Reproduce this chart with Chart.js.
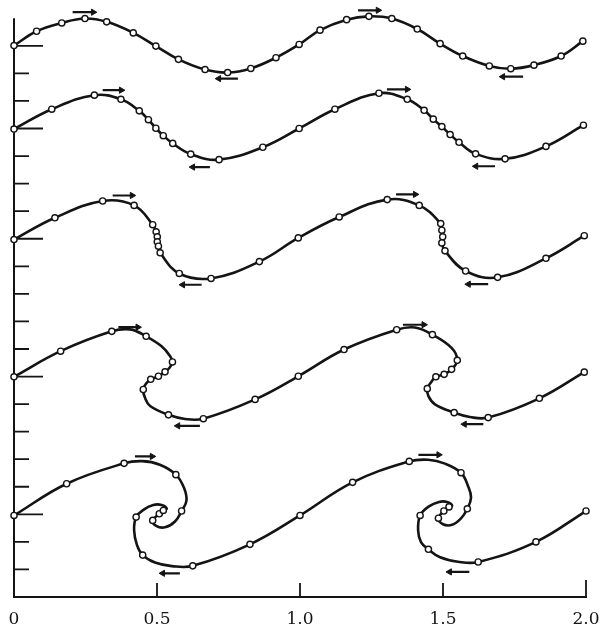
<!DOCTYPE html>
<html>
<head>
<meta charset="utf-8">
<script src="https://cdn.jsdelivr.net/npm/chart.js@4.4.1/dist/chart.umd.min.js"></script>
<style>
  html, body { margin: 0; padding: 0; background: #fff; }
</style>
</head>
<body>
<canvas id="sheet" width="603" height="631"></canvas>
<script>
// x axis labels (0 .. 2 in steps of 0.5)
const xTickLabels = ['0', '0.5', '1.0', '1.5', '2.0'];
// levels where each profile starts -> long tick marks on the left
const baseLevels = [2.0, 1.7, 1.3, 0.8, 0.3];
// the left axis line stops here
const yAxisTop = 2.1;

// profile 1 (top), every point is a marker
const wave1 = [
  [0.000, 2.001], [0.079, 2.053], [0.167, 2.083], [0.248, 2.099], [0.324, 2.087],
  [0.417, 2.047], [0.496, 1.999], [0.575, 1.951], [0.668, 1.914], [0.747, 1.903],
  [0.828, 1.918], [0.916, 1.957], [0.997, 2.005], [1.070, 2.057], [1.163, 2.095],
  [1.241, 2.107], [1.321, 2.099], [1.410, 2.061], [1.490, 2.008], [1.569, 1.963],
  [1.662, 1.927], [1.737, 1.917], [1.818, 1.930], [1.913, 1.963], [1.989, 2.017]
];

// profile 2
const wave2 = [
  [0.000, 1.698], [0.132, 1.770], [0.281, 1.821], [0.374, 1.806], [0.438, 1.764],
  [0.470, 1.732], [0.496, 1.701], [0.522, 1.674], [0.555, 1.646], [0.618, 1.607],
  [0.717, 1.587], [0.870, 1.632], [0.997, 1.700], [1.122, 1.770], [1.276, 1.828],
  [1.375, 1.806], [1.434, 1.766], [1.466, 1.734], [1.496, 1.707], [1.525, 1.678],
  [1.556, 1.650], [1.614, 1.608], [1.717, 1.590], [1.860, 1.635], [1.991, 1.712]
];

// profile 3
const wave3 = [
  [0.000, 1.297], [0.143, 1.376], [0.310, 1.437], [0.420, 1.421], [0.485, 1.351],
  [0.497, 1.325], [0.501, 1.307], [0.501, 1.289], [0.505, 1.273], [0.511, 1.249],
  [0.578, 1.174], [0.689, 1.156], [0.858, 1.217], [0.994, 1.303], [1.137, 1.379],
  [1.305, 1.442], [1.417, 1.421], [1.492, 1.355], [1.496, 1.331], [1.499, 1.307],
  [1.496, 1.285], [1.507, 1.256], [1.579, 1.183], [1.691, 1.160], [1.860, 1.229],
  [1.994, 1.311]
];

// profile 4 (overhanging), marks = indices drawn as circles
const wave4 = [
  [0.000, 0.799], [0.163, 0.892], [0.342, 0.964], [0.406, 0.971], [0.462, 0.946],
  [0.516, 0.910], [0.546, 0.874], [0.554, 0.853], [0.543, 0.831], [0.528, 0.817],
  [0.505, 0.801], [0.478, 0.790], [0.462, 0.775], [0.452, 0.753], [0.458, 0.723],
  [0.476, 0.693], [0.540, 0.661], [0.598, 0.646], [0.662, 0.647], [0.843, 0.717],
  [0.994, 0.801], [1.154, 0.898], [1.338, 0.970], [1.402, 0.978], [1.463, 0.952],
  [1.530, 0.904], [1.550, 0.859], [1.530, 0.826], [1.504, 0.808], [1.475, 0.799],
  [1.461, 0.783], [1.445, 0.756], [1.449, 0.729], [1.472, 0.699], [1.539, 0.669],
  [1.594, 0.653], [1.658, 0.651], [1.837, 0.721], [1.994, 0.816]
];
const marks4 = [0, 1, 2, 4, 7, 9, 10, 11, 13, 16, 18, 19, 20, 21, 22, 24, 26, 27, 28, 29, 31, 34, 36, 37, 38];

// profile 5 (rolled up)
const wave5 = [
  [0.000, 0.296], [0.184, 0.411], [0.385, 0.485], [0.448, 0.493], [0.510, 0.480],
  [0.566, 0.444], [0.594, 0.397], [0.603, 0.350], [0.586, 0.312], [0.563, 0.274],
  [0.528, 0.253], [0.497, 0.258], [0.485, 0.278], [0.508, 0.302], [0.522, 0.314],
  [0.534, 0.321], [0.516, 0.334], [0.487, 0.334], [0.455, 0.318], [0.427, 0.290],
  [0.420, 0.242], [0.430, 0.188], [0.450, 0.152], [0.493, 0.125], [0.552, 0.112],
  [0.625, 0.113], [0.825, 0.191], [1.000, 0.296], [1.184, 0.416], [1.382, 0.492],
  [1.448, 0.498], [1.507, 0.484], [1.563, 0.451], [1.587, 0.404], [1.598, 0.361],
  [1.585, 0.320], [1.563, 0.285], [1.532, 0.262], [1.500, 0.264], [1.484, 0.286],
  [1.503, 0.312], [1.521, 0.327], [1.532, 0.332], [1.514, 0.345], [1.486, 0.345],
  [1.451, 0.329], [1.420, 0.296], [1.413, 0.242], [1.423, 0.199], [1.449, 0.173],
  [1.490, 0.144], [1.552, 0.128], [1.623, 0.127], [1.825, 0.200], [2.000, 0.312]
];
const marks5 = [0, 1, 2, 5, 8, 12, 13, 14, 19, 22, 25, 26, 27, 28, 29, 32, 35, 39, 40, 41, 46, 49, 52, 53, 54];

// arrows: [tail x, head x, y]
const rightArrows = [
  [0.205, 0.277, 2.122], [1.203, 1.273, 2.129],
  [0.310, 0.375, 1.839], [1.304, 1.375, 1.842],
  [0.345, 0.413, 1.457], [1.336, 1.403, 1.461],
  [0.365, 0.433, 0.979], [1.360, 1.433, 0.988],
  [0.423, 0.483, 0.510], [1.414, 1.485, 0.516]
];
const leftArrows = [
  [0.783, 0.716, 1.881], [1.780, 1.709, 1.888],
  [0.685, 0.625, 1.560], [1.682, 1.615, 1.563],
  [0.656, 0.590, 1.133], [1.658, 1.589, 1.135],
  [0.650, 0.573, 0.621], [1.641, 1.575, 0.627],
  [0.580, 0.520, 0.086], [1.592, 1.523, 0.091]
];

const INK = '#141414';

function waveSet(path, marks) {
  return {
    data: path.map(([x, y]) => ({ x, y })),
    showLine: true,
    borderColor: INK,
    borderWidth: 2.6,
    borderJoinStyle: 'round',
    borderCapStyle: 'round',
    tension: 0.4,
    pointStyle: 'circle',
    pointRadius: c => (!marks || marks.includes(c.dataIndex)) ? 3.1 : 0,
    pointHoverRadius: 0,
    pointBorderWidth: 1.4,
    pointBorderColor: INK,
    pointBackgroundColor: '#fff',
    clip: false
  };
}

function arrowSet(list, rotation) {
  const data = [];
  list.forEach(([x0, x1, y]) => {
    data.push({ x: x0, y }, { x: x1, y }, { x: x1, y: null });
  });
  return {
    data,
    showLine: true,
    spanGaps: false,
    tension: 0,
    borderColor: INK,
    borderWidth: 2.2,
    pointStyle: 'triangle',
    pointRotation: rotation,
    pointRadius: c => c.dataIndex % 3 === 1 ? 3.6 : 0,
    pointHoverRadius: 0,
    pointBorderWidth: 1,
    pointBorderColor: INK,
    pointBackgroundColor: INK,
    clip: false
  };
}

// left axis line plus tick marks pointing into the plot
const innerTicks = {
  id: 'innerTicks',
  beforeDatasetsDraw(chart) {
    const { ctx, chartArea, scales: { x, y } } = chart;
    const left = chartArea.left;
    ctx.save();
    ctx.strokeStyle = INK;
    ctx.lineWidth = 2;
    ctx.beginPath();
    ctx.moveTo(left, y.getPixelForValue(0) + 1);
    ctx.lineTo(left, y.getPixelForValue(yAxisTop));
    ctx.stroke();
    ctx.lineWidth = 1.8;
    ctx.beginPath();
    y.ticks.forEach(t => {
      if (t.value <= 0 || t.value > yAxisTop + 1e-6) return;
      const py = y.getPixelForValue(t.value);
      const long = baseLevels.some(b => Math.abs(b - t.value) < 1e-6);
      ctx.moveTo(left, py);
      ctx.lineTo(left + (long ? 29 : 15), py);
    });
    x.ticks.forEach(t => {
      if (t.value <= 0) return;
      const px = x.getPixelForValue(t.value);
      ctx.moveTo(px, chartArea.bottom);
      ctx.lineTo(px, chartArea.bottom - (t.value >= 2 ? 17 : 14));
    });
    ctx.stroke();
    ctx.restore();
  }
};

new Chart(document.getElementById('sheet'), {
  type: 'scatter',
  data: {
    datasets: [
      waveSet(wave1), waveSet(wave2), waveSet(wave3),
      waveSet(wave4, marks4), waveSet(wave5, marks5),
      arrowSet(rightArrows, 90), arrowSet(leftArrows, 270)
    ]
  },
  options: {
    responsive: false,
    animation: false,
    layout: { padding: { left: 14, right: 17, top: 1, bottom: 2 } },
    elements: { line: { capBezierPoints: false } },
    plugins: { legend: { display: false }, tooltip: { enabled: false } },
    scales: {
      x: {
        type: 'linear',
        min: 0, max: 2,
        grid: { display: false, drawTicks: false },
        border: { display: true, color: INK, width: 2 },
        ticks: {
          stepSize: 0.5,
          autoSkip: false,
          maxRotation: 0,
          padding: 12,
          color: INK,
          font: { family: 'DejaVu Serif', size: 17 },
          callback: (v, i) => xTickLabels[i]
        },
        afterFit(scale) {
          scale.height = 32;
          scale.paddingLeft = 0;
          scale.paddingRight = 0;
        }
      },
      y: {
        type: 'linear',
        min: 0, max: 2.15,
        grid: { display: false, drawTicks: false },
        border: { display: false },
        ticks: { stepSize: 0.1, display: false },
        afterFit(scale) {
          scale.width = 0;
        }
      }
    }
  },
  plugins: [innerTicks]
});
</script>
</body>
</html>
